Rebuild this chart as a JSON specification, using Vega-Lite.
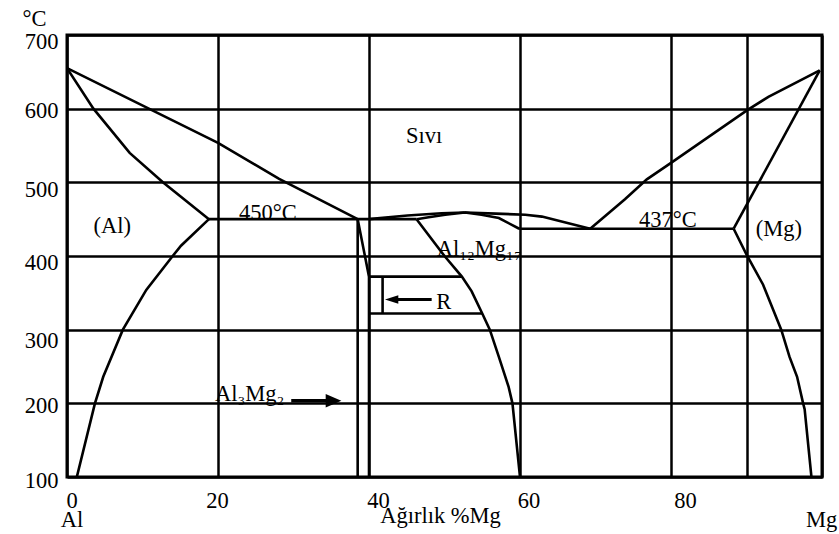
{
  "$schema": "https://vega.github.io/schema/vega-lite/v6.json",
  "width": 755,
  "height": 442,
  "autosize": "none",
  "padding": {"left": 67, "top": 35, "right": 17, "bottom": 57},
  "background": "white",
  "config": {
    "font": "'Liberation Serif', 'Times New Roman', Tinos, 'DejaVu Serif', serif",
    "view": {"stroke": "black", "strokeWidth": 3},
    "axis": {
      "labelColor": "black",
      "titleColor": "black",
      "labelFontSize": 22.5,
      "titleFontSize": 22.5,
      "titleFontWeight": "normal",
      "domain": false,
      "ticks": false,
      "grid": true,
      "gridColor": "black",
      "gridOpacity": 1,
      "gridWidth": 2.5
    }
  },
  "encoding": {
    "x": {
      "field": "x",
      "type": "quantitative",
      "scale": {"domain": [0, 100], "nice": false, "zero": false},
      "axis": {
        "values": [0, 20, 40, 60, 80, 90, 100],
        "labelExpr": "datum.value == 0 ? ['0', 'Al'] : datum.value == 100 ? ['', 'Mg'] : datum.value == 90 ? '' : datum.label",
        "labelPadding": 12,
        "labelLineHeight": 19,
        "labelFlush": false,
        "labelOverlap": false,
        "labelBound": false,
        "labelBaseline": "top",
        "labelOffset": {
          "condition": [
            {"test": "datum.value == 0", "value": 4.5},
            {"test": "datum.value == 40", "value": 9},
            {"test": "datum.value == 60", "value": 8.5},
            {"test": "datum.value == 80", "value": 14}
          ],
          "value": -1
        },
        "title": "Ağırlık %Mg",
        "titleX": 373,
        "titleY": 45.5,
        "titleAlign": "center",
        "titleBaseline": "alphabetic"
      }
    },
    "y": {
      "field": "t",
      "type": "quantitative",
      "scale": {"domain": [100, 700], "nice": false, "zero": false},
      "axis": {
        "values": [100, 200, 300, 400, 500, 600, 700],
        "labelPadding": 9,
        "labelOffset": {
          "condition": [
            {"test": "datum.value == 700", "value": 6},
            {"test": "datum.value == 600", "value": 2},
            {"test": "datum.value == 500", "value": 7.5},
            {"test": "datum.value == 400", "value": 6.5},
            {"test": "datum.value == 300", "value": 11},
            {"test": "datum.value == 200", "value": 2}
          ],
          "value": 3
        },
        "title": "°C",
        "titleAngle": 0,
        "titleX": -33,
        "titleY": -17,
        "titleAlign": "center",
        "titleBaseline": "middle"
      }
    }
  },
  "layer": [
    {
      "data": {
        "values": [
          {"id": "liqAl", "i": 0, "x": 0, "t": 655},
          {"id": "liqAl", "i": 1, "x": 20, "t": 553.5},
          {"id": "liqAl", "i": 2, "x": 28.1, "t": 504.7},
          {"id": "liqAl", "i": 3, "x": 38.5, "t": 450},

          {"id": "solAl", "i": 0, "x": 0, "t": 655},
          {"id": "solAl", "i": 1, "x": 3.5, "t": 600},
          {"id": "solAl", "i": 2, "x": 8.3, "t": 540},
          {"id": "solAl", "i": 3, "x": 12.7, "t": 500},
          {"id": "solAl", "i": 4, "x": 18.8, "t": 450},

          {"id": "solvAl", "i": 0, "x": 18.8, "t": 450},
          {"id": "solvAl", "i": 1, "x": 15.1, "t": 414},
          {"id": "solvAl", "i": 2, "x": 14.0, "t": 400},
          {"id": "solvAl", "i": 3, "x": 10.5, "t": 354},
          {"id": "solvAl", "i": 4, "x": 7.4, "t": 300},
          {"id": "solvAl", "i": 5, "x": 4.8, "t": 236},
          {"id": "solvAl", "i": 6, "x": 3.7, "t": 200},
          {"id": "solvAl", "i": 7, "x": 1.3, "t": 100},

          {"id": "eut450", "i": 0, "x": 18.8, "t": 450},
          {"id": "eut450", "i": 1, "x": 46.3, "t": 450},

          {"id": "betaL", "i": 0, "x": 38.5, "t": 450},
          {"id": "betaL", "i": 1, "x": 38.5, "t": 100},

          {"id": "betaR", "i": 0, "x": 38.5, "t": 450},
          {"id": "betaR", "i": 1, "x": 40, "t": 372},
          {"id": "betaR", "i": 2, "x": 40, "t": 100},

          {"id": "liqG", "i": 0, "x": 40, "t": 450},
          {"id": "liqG", "i": 1, "x": 45.1, "t": 455},
          {"id": "liqG", "i": 2, "x": 49.6, "t": 458},
          {"id": "liqG", "i": 3, "x": 52.7, "t": 459},
          {"id": "liqG", "i": 4, "x": 56.8, "t": 457.5},
          {"id": "liqG", "i": 5, "x": 60.7, "t": 456},
          {"id": "liqG", "i": 6, "x": 62.9, "t": 453.5},
          {"id": "liqG", "i": 7, "x": 69.3, "t": 437},

          {"id": "solGL", "i": 0, "x": 46.3, "t": 450},
          {"id": "solGL", "i": 1, "x": 47.9, "t": 452.5},
          {"id": "solGL", "i": 2, "x": 50.1, "t": 456},
          {"id": "solGL", "i": 3, "x": 52.7, "t": 459},

          {"id": "solGR", "i": 0, "x": 52.7, "t": 459},
          {"id": "solGR", "i": 1, "x": 54.9, "t": 456},
          {"id": "solGR", "i": 2, "x": 57.2, "t": 451.5},
          {"id": "solGR", "i": 3, "x": 59.9, "t": 437},

          {"id": "solvG", "i": 0, "x": 46.3, "t": 450},
          {"id": "solvG", "i": 1, "x": 50.0, "t": 400},
          {"id": "solvG", "i": 2, "x": 52.3, "t": 372},
          {"id": "solvG", "i": 3, "x": 53.6, "t": 352},
          {"id": "solvG", "i": 4, "x": 55.0, "t": 322},
          {"id": "solvG", "i": 5, "x": 56.0, "t": 300},
          {"id": "solvG", "i": 6, "x": 57.2, "t": 263},
          {"id": "solvG", "i": 7, "x": 58.5, "t": 222},
          {"id": "solvG", "i": 8, "x": 59.0, "t": 200},
          {"id": "solvG", "i": 9, "x": 60.0, "t": 100},

          {"id": "eut437", "i": 0, "x": 59.9, "t": 437},
          {"id": "eut437", "i": 1, "x": 88.3, "t": 437},

          {"id": "liqMg", "i": 0, "x": 69.3, "t": 437},
          {"id": "liqMg", "i": 1, "x": 73.9, "t": 477},
          {"id": "liqMg", "i": 2, "x": 76.8, "t": 504},
          {"id": "liqMg", "i": 3, "x": 80.1, "t": 527},
          {"id": "liqMg", "i": 4, "x": 90.1, "t": 598},
          {"id": "liqMg", "i": 5, "x": 92.9, "t": 616},
          {"id": "liqMg", "i": 6, "x": 99.7, "t": 652},

          {"id": "solMg", "i": 0, "x": 88.3, "t": 437},
          {"id": "solMg", "i": 1, "x": 99.7, "t": 652},

          {"id": "solvMg", "i": 0, "x": 88.3, "t": 437},
          {"id": "solvMg", "i": 1, "x": 90.1, "t": 400},
          {"id": "solvMg", "i": 2, "x": 92.2, "t": 361},
          {"id": "solvMg", "i": 3, "x": 94.6, "t": 300},
          {"id": "solvMg", "i": 4, "x": 95.7, "t": 263},
          {"id": "solvMg", "i": 5, "x": 96.7, "t": 236},
          {"id": "solvMg", "i": 6, "x": 97.5, "t": 200},
          {"id": "solvMg", "i": 7, "x": 97.7, "t": 192},
          {"id": "solvMg", "i": 8, "x": 98.6, "t": 100},

          {"id": "r372", "i": 0, "x": 40, "t": 372},
          {"id": "r372", "i": 1, "x": 52.3, "t": 372},
          {"id": "r322", "i": 0, "x": 40, "t": 322},
          {"id": "r322", "i": 1, "x": 55.0, "t": 322},
          {"id": "rv", "i": 0, "x": 41.8, "t": 372},
          {"id": "rv", "i": 1, "x": 41.8, "t": 322}
        ]
      },
      "mark": {"type": "line", "color": "black", "strokeWidth": 2.6, "clip": true},
      "encoding": {
        "detail": {"field": "id", "type": "nominal"},
        "order": {"field": "i", "type": "quantitative"}
      }
    },
    {
      "data": {"values": [{"x": 29.7, "x2": 35.3, "t": 203.5}]},
      "mark": {"type": "rule", "color": "black", "strokeWidth": 3.5},
      "encoding": {"x2": {"field": "x2"}}
    },
    {
      "data": {"values": [{"x": 35.3, "t": 203.5}]},
      "mark": {"type": "point", "shape": "M-1,-0.85L1,0L-1,0.85Z", "size": 246, "filled": true, "color": "black", "opacity": 1},
      "encoding": {}
    },
    {
      "data": {"values": [{"x": 43.0, "x2": 48.3, "t": 341}]},
      "mark": {"type": "rule", "color": "black", "strokeWidth": 3},
      "encoding": {"x2": {"field": "x2"}}
    },
    {
      "data": {"values": [{"x": 43.0, "t": 341}]},
      "mark": {"type": "point", "shape": "M1,-0.65L-1,0L1,0.65Z", "size": 177, "filled": true, "color": "black", "opacity": 1},
      "encoding": {}
    },
    {
      "data": {
        "values": [
          {"txt": "Sıvı", "x": 47.3, "t": 563},
          {"txt": "(Al)", "x": 6.0, "t": 441},
          {"txt": "450°C", "x": 26.6, "t": 458},
          {"txt": "437°C", "x": 79.6, "t": 449},
          {"txt": "(Mg)", "x": 94.3, "t": 437},
          {"txt": "Al₁₂Mg₁₇", "x": 54.6, "t": 410},
          {"txt": "R", "x": 49.9, "t": 337},
          {"txt": "Al₃Mg₂", "x": 24.2, "t": 213}
        ]
      },
      "mark": {"type": "text", "fontSize": 22.5, "color": "black", "align": "center", "baseline": "middle"},
      "encoding": {"text": {"field": "txt", "type": "nominal"}}
    }
  ]
}
